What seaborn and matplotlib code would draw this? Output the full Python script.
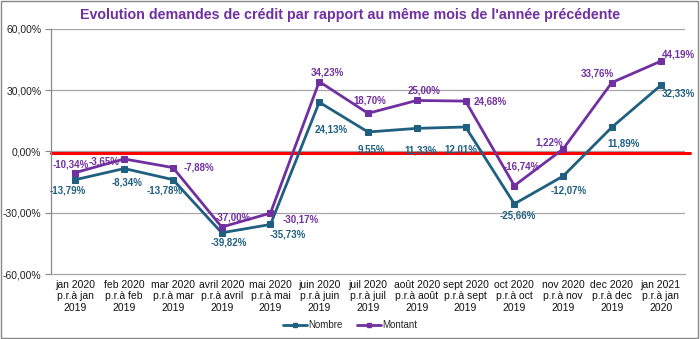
import matplotlib
matplotlib.use("Agg")
import matplotlib.pyplot as plt
import seaborn as sns
import pandas as pd
from matplotlib.patches import Rectangle
from matplotlib.lines import Line2D

sns.set_theme(style="white")
plt.rcParams['font.family'] = ['Liberation Sans', 'DejaVu Sans']

categories = ["jan 2020\np.r.à jan\n2019", "feb 2020\np.r.à feb\n2019", "mar 2020\np.r.à mar\n2019",
              "avril 2020\np.r.à avril\n2019", "mai 2020\np.r.à mai\n2019", "juin 2020\np.r.à juin\n2019",
              "juil 2020\np.r.à juil\n2019", "août 2020\np.r.à août\n2019", "sept 2020\np.r.à sept\n2019",
              "oct 2020\np.r.à oct\n2019", "nov 2020\np.r.à nov\n2019", "dec 2020\np.r.à dec\n2019",
              "jan 2021\np.r.à jan\n2020"]
nombre = [-13.79, -8.34, -13.78, -39.82, -35.73, 24.13, 9.55, 11.33, 12.01, -25.66, -12.07, 11.89, 32.33]
montant = [-10.34, -3.65, -7.88, -37.00, -30.17, 34.23, 18.70, 25.00, 24.68, -16.74, 1.22, 33.76, 44.19]
yticks = [-60, -30, 0, 30, 60]

c_nombre = "#1F5F80"
c_montant = "#7030A0"

# label offsets in pixels (dx, dy)
off_nombre = [(-8, -11), (3, -14), (-8, -11), (7, -10), (17, -10), (12, -27), (3, -18),
              (4, -22), (-5, -23), (3, -12), (6, -14), (12, -16), (18, -8)]
off_montant = [(-5, 8), (-20, -3), (26, 0), (11, 10), (30, -6), (8, 9), (2, 13),
               (7, 10), (25, 0), (7, 19), (-14, 7), (-15, 9), (18, 7)]

df = pd.DataFrame({
    "idx": list(range(len(categories))) * 2,
    "value": nombre + montant,
    "serie": ["Nombre"] * len(nombre) + ["Montant"] * len(montant),
})

fig = plt.figure(figsize=(7.0, 3.39), dpi=100)
ax = fig.add_axes([0.0729, 0.1917, 0.9057, 0.7228])

for sname, col in [("Nombre", c_nombre), ("Montant", c_montant)]:
    sub = df[df.serie == sname]
    sns.lineplot(data=sub, x="idx", y="value", ax=ax, color=col, marker="s",
                 markersize=5, markeredgecolor=col, linewidth=2, label=sname,
                 sort=False, legend=False, zorder=3)

for vals, offs, col in [(nombre, off_nombre, c_nombre), (montant, off_montant, c_montant)]:
    for i, (v, (dx, dy)) in enumerate(zip(vals, offs)):
        ax.annotate(f"{v:.2f}%".replace(".", ","), (i, v), xytext=(dx, dy),
                    textcoords="offset pixels", ha="center", va="center",
                    fontsize=7, fontweight="bold", color=col, zorder=5)

ax.set_xlim(-0.5, len(categories) - 0.5)
ax.set_ylim(-60, 60)
ax.set_yticks(yticks)
ax.set_yticklabels([f"{t:.2f}%".replace(".", ",") for t in yticks], fontsize=7.5, color="#222222")
ax.set_xticks(range(len(categories)))
ax.set_xticklabels(categories, fontsize=7.5, color="#111111", linespacing=1.2)
ax.tick_params(axis="x", length=0, pad=4)
ax.tick_params(axis="y", length=4, width=0.8, color="#888888", pad=3, left=True, direction="out")
ax.set_xlabel("")
ax.set_ylabel("")

for t in [-30, 0, 30, 60]:
    ax.axhline(t, color="#A6A6A6", lw=0.9, zorder=1)
for s in ["top", "right"]:
    ax.spines[s].set_visible(False)
ax.spines["left"].set_color("#888888")
ax.spines["bottom"].set_color("#A6A6A6")
ax.spines["left"].set_linewidth(0.9)
ax.spines["bottom"].set_linewidth(0.9)

ax.plot([-0.5, 12.6], [-0.8, -0.8], color="#FF0000", lw=2.2, clip_on=False, zorder=2)

fig.text(0.5, 0.955, "Evolution demandes de crédit par rapport au même mois de l'année précédente",
         ha="center", va="center", fontsize=10.3, fontweight="bold", color="#7030A0")

handles = [Line2D([], [], color=c_nombre, marker="s", markersize=3.5, lw=2),
           Line2D([], [], color=c_montant, marker="s", markersize=3.5, lw=2)]
fig.legend(handles, ["Nombre", "Montant"], loc="center", bbox_to_anchor=(0.5, 0.04),
           ncol=2, frameon=False, fontsize=7, handlelength=2.5, handletextpad=0.1,
           columnspacing=1.5)

fig.patches.append(Rectangle((0.002, 0.003), 0.995, 0.993, transform=fig.transFigure,
                             fill=False, edgecolor="#888888", lw=1))

fig.savefig("out.png", dpi=100)
